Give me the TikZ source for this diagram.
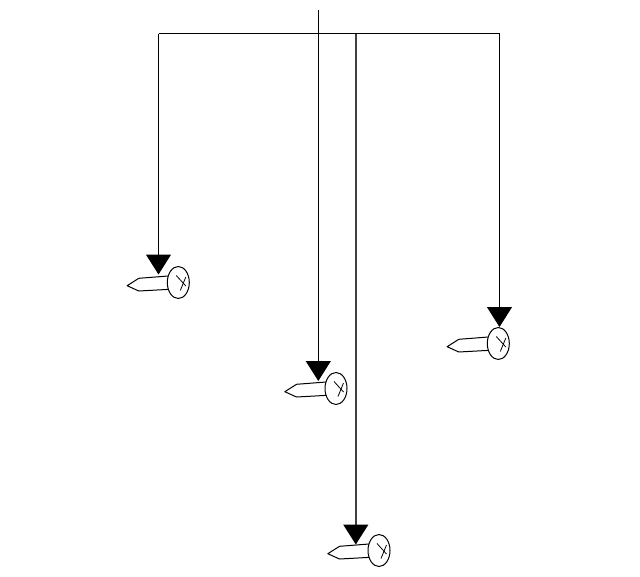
\documentclass[tikz,border=0pt]{standalone}
\usetikzlibrary{arrows.meta}
\tikzset{
  wire/.style={draw=black,line width=1pt,-{Triangle[length=20pt,width=25pt]}},
  bus/.style={draw=black,line width=1pt},
  nail/.pic={
    \draw[black,line width=1pt,fill=white,line join=round]
      (-10,-6.5) -- (-39.5,-4.2) -- (-51.2,3.2) -- (-39.5,8.5) -- (-8.5,6.8);
    \draw[black,line width=1pt,fill=white] (0,0) ellipse [x radius=11,y radius=16];
    \draw[black,line width=0.8pt] (-2,-7) -- (7.5,3.5);
    \draw[black,line width=0.8pt] (2,8) -- (7.5,-5.5);
  }
}
\begin{document}
\begin{tikzpicture}[x=1pt,y=-1pt]
\useasboundingbox (0,0) rectangle (640,576);
\coordinate (top) at (318.3,10);
\coordinate (left) at (158.5,33.5);
\coordinate (right) at (499.5,33.5);
\coordinate (hub) at (355.8,33.5);
\coordinate (n1) at (158.7,274.5);
\coordinate (n2) at (318.3,381);
\coordinate (n3) at (500,327);
\coordinate (n4) at (355.8,544.5);
\draw[bus] (left) -- (right);
\draw[wire] (left) -- (left |- n1);
\draw[wire] (top) -- (n2);
\draw[wire] (right) -- (right |- n3);
\draw[wire,draw=black!75,fill=black,line width=1.5pt,-{Triangle[length=20pt,width=25pt,color=black]}] (hub) -- (n4);
\pic at (178.3,282.5) {nail};
\pic at (336,388.5) {nail};
\pic at (498.3,343.5) {nail};
\pic at (379,550.5) {nail};
\end{tikzpicture}
\end{document}
